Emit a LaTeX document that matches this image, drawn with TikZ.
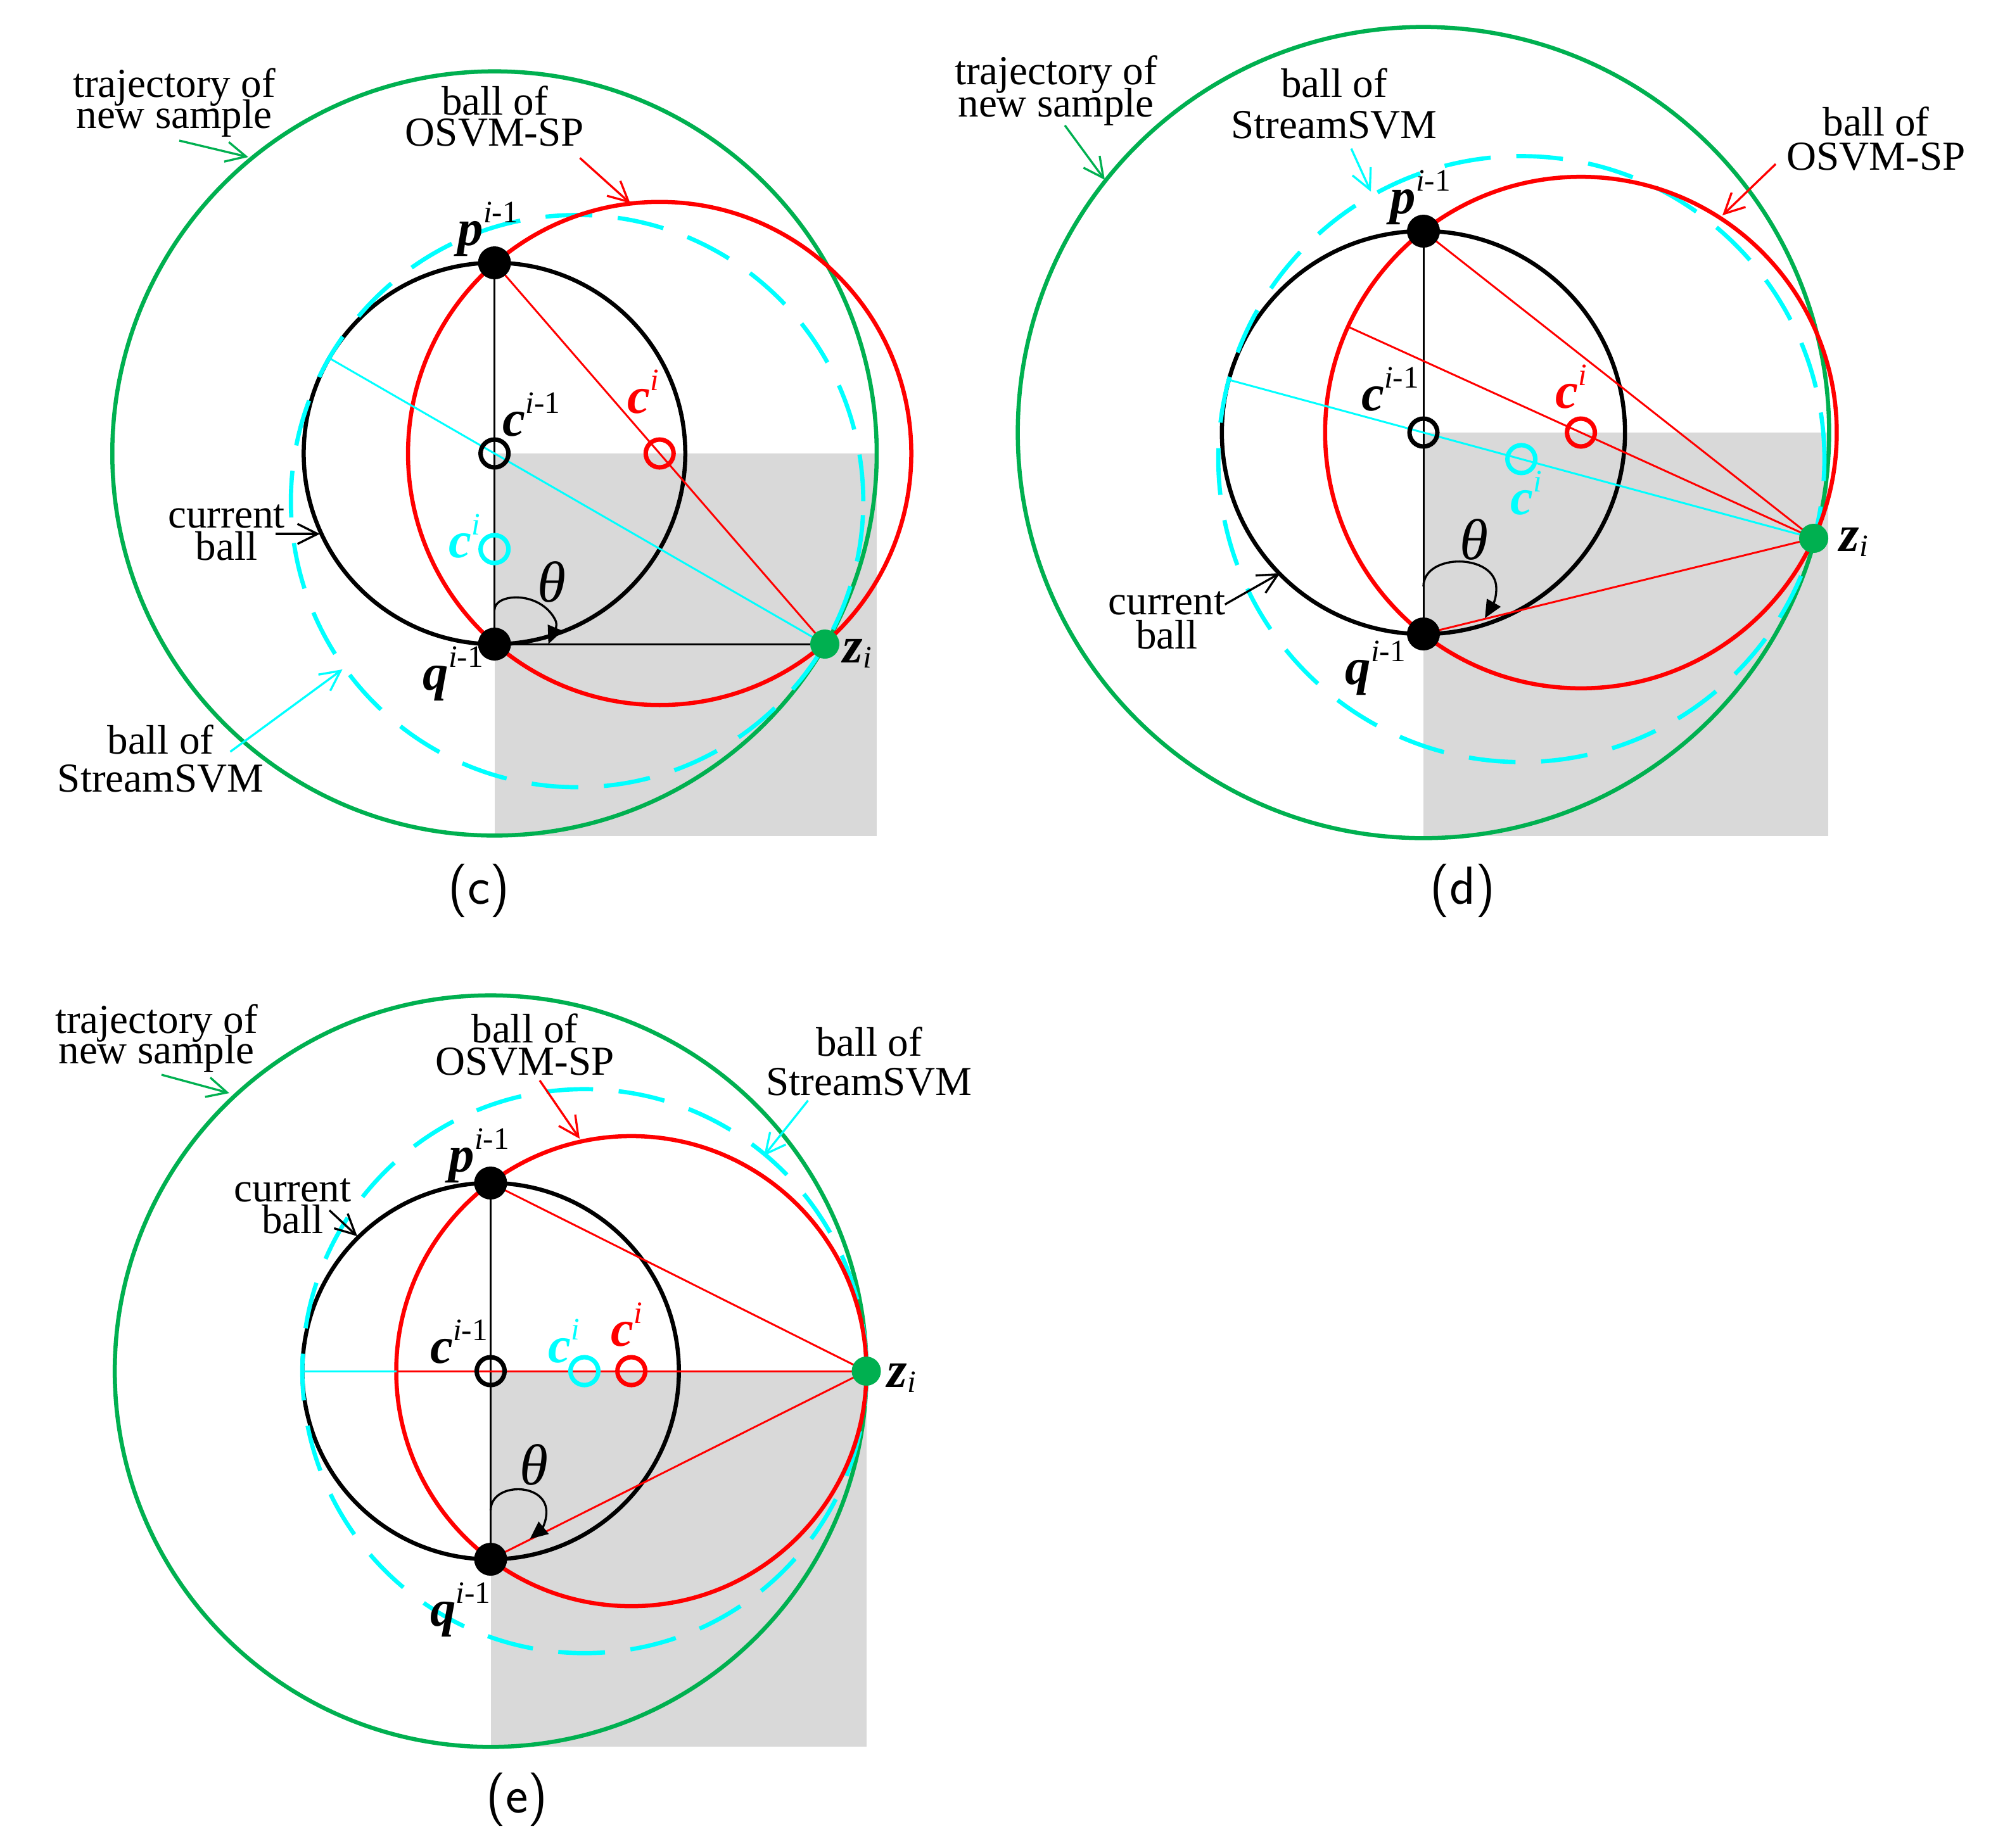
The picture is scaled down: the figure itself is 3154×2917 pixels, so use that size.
\documentclass[tikz,border=0pt]{standalone}
\usepackage{fontspec}
\setmainfont{Liberation Serif}
\usetikzlibrary{arrows.meta}
\definecolor{tgreen}{RGB}{0,176,80}
\definecolor{tred}{RGB}{255,0,0}
\definecolor{tcyan}{RGB}{0,255,255}
\definecolor{tgray}{RGB}{217,217,217}
\newcommand{\mv}[1]{{\fontsize{23}{23}\selectfont\bfseries\itshape #1\/}}
\newcommand{\ms}[1]{\raisebox{10.2pt}{\fontsize{14}{14}\selectfont #1}}
\newcommand{\mb}[1]{\raisebox{-2.5pt}{\fontsize{14}{14}\selectfont #1}}
\newcommand{\twol}[3]{\vtop{\baselineskip=#1\lineskiplimit=-100pt\lineskip=0pt\halign{\hfil##\hfil\cr#2\cr#3\cr}}}
\begin{document}
\begin{tikzpicture}[x=0.01cm,y=-0.01cm,
  bigc/.style={line width=1.85pt},
  thinl/.style={line width=0.85pt},
  dashc/.style={line width=1.9pt,tcyan,dash pattern=on 21pt off 11.5pt},
  hollow/.style={draw,line width=2pt,circle,minimum size=0.44cm,inner sep=0pt},
  solidm/.style={fill=black,circle,minimum size=0.52cm,inner sep=0pt},
  zmark/.style={fill=tgreen,circle,minimum size=0.46cm,inner sep=0pt},
  txt/.style={inner sep=0pt,anchor=base,font=\fontsize{18.5}{18.5}\selectfont},
  mlab/.style={inner sep=0pt,anchor=base west},
  plab/.style={inner sep=0pt,anchor=base,font=\sffamily\fontsize{24}{24}\selectfont},
  thlab/.style={inner sep=0pt,font=\fontsize{26}{26}\selectfont\itshape},
  callout/.style={line width=0.95pt,-{Straight Barb[length=9pt,width=9pt]}},
  tharc/.style={line width=0.95pt,-{Triangle[length=8pt,width=7pt]}}]
\useasboundingbox (0,0) rectangle (3154,2917);
\fill[white] (0,0) rectangle (3154,2917);

%%%%%%%%%%%%%%%% panel (c)
\coordinate (cC) at (780.6,716);
\coordinate (pC) at (780.6,415);
\coordinate (qC) at (780.6,1017);
\coordinate (zC) at (1302,1017);
\coordinate (rcC) at (1041.3,716);
\coordinate (scC) at (910.95,791.25);
\coordinate (farC) at (519.9,565.5);
\fill[tgray] (cC) rectangle (1384,1320);
\draw[bigc,tgreen] (cC) circle[radius=6.03cm];
\draw[bigc,black] (cC) circle[radius=3.01cm];
\draw[dashc] (scC) circle[radius=4.515cm];
\draw[bigc,tred] (rcC) circle[radius=3.97cm];
\draw[thinl,black] (pC) -- (qC);
\draw[thinl,black] (qC) -- (zC);
\draw[thinl,tcyan] (farC) -- (zC);
\draw[thinl,tred] (pC) -- (zC);
\node[hollow,black] (mcC) at (cC) {};
\node[hollow,tred] (mrC) at (rcC) {};
\node[hollow,tcyan] (msC) at (780.6,867) {};
\node[solidm] (npC) at (pC) {};
\node[solidm] (nqC) at (qC) {};
\node[zmark] (nzC) at (zC) {};
\draw[tharc] (780.6,963) .. controls (780.6,937) and (850.6,932) .. (875.6,977)
  .. controls (883.6,989) and (870.6,1005) .. (865.6,1017);
\node[thlab] (thC) at (871,919) {θ};
\node[mlab] (lpC) at (722,387) {\mv{p}\ms{\textit{i}-1}};
\node[mlab] (lcC) at (793,688) {\mv{c}\ms{\textit{i}-1}};
\node[mlab,text=tred] (lrC) at (990,652) {\mv{c}\ms{\textit{i}}};
\node[mlab,text=tcyan] (lsC) at (708,880) {\mv{c}\ms{\textit{i}}};
\node[mlab] (lqC) at (667,1089) {\mv{q}\ms{\textit{i}-1}};
\node[mlab] (lzC) at (1330,1046) {\mv{z}\mb{\textit{i}}};
\node[txt] (tC) at (275,153) {\twol{13.94pt}{trajectory of}{new sample}};
\coordinate (atC1) at (283,222); \coordinate (atC2) at (392,248);
\draw[callout,tgreen] (atC1) -- (atC2);
\node[txt] (oC) at (781,181) {\twol{13.94pt}{ball of}{OSVM-SP}};
\coordinate (aoC1) at (915.5,249.5); \coordinate (aoC2) at (995,321);
\draw[callout,tred] (aoC1) -- (aoC2);
\node[txt] (kC) at (357.5,833) {\twol{14.5pt}{current}{ball}};
\coordinate (akC1) at (435,843); \coordinate (akC2) at (505,843);
\draw[callout,black] (akC1) -- (akC2);
\node[txt] (sC) at (253.5,1190) {\twol{17.2pt}{ball of}{StreamSVM}};
\coordinate (asC1) at (363.5,1187); \coordinate (asC2) at (540.5,1057);
\draw[callout,tcyan] (asC1) -- (asC2);
\node[plab] (capC) at (756,1427) {(c)};

%%%%%%%%%%%%%%%% panel (d)
\coordinate (cD) at (2247,683);
\coordinate (pD) at (2247,365);
\coordinate (qD) at (2247,1001);
\coordinate (zD) at (2863,850);
\coordinate (rcD) at (2495.6,683);
\coordinate (roD) at (2128.2,516);
\coordinate (scD) at (2401.55,724.9);
\coordinate (farD) at (1940.1,599.8);
\fill[tgray] (cD) rectangle (2886,1320);
\draw[bigc,tgreen] (cD) circle[radius=6.40cm];
\draw[bigc,black] (cD) circle[radius=3.18cm];
\draw[dashc] (scD) circle[radius=4.781cm];
\draw[bigc,tred] (rcD) circle[radius=4.036cm];
\draw[thinl,black] (pD) -- (qD);
\draw[thinl,tcyan] (farD) -- (zD);
\draw[thinl,tred] (pD) -- (zD);
\draw[thinl,tred] (roD) -- (zD);
\draw[thinl,tred] (qD) -- (zD);
\node[hollow,black] (mcD) at (cD) {};
\node[hollow,tred] (mrD) at (rcD) {};
\node[hollow,tcyan] (msD) at (scD) {};
\node[solidm] (npD) at (pD) {};
\node[solidm] (nqD) at (qD) {};
\node[zmark] (nzD) at (zD) {};
\draw[tharc] (2247,926) .. controls (2247,873) and (2362,873) .. (2362,929)
  .. controls (2362,949) and (2355,957) .. (2344,976);
\node[thlab] (thD) at (2327,852) {θ};
\node[mlab] (lpD) at (2194,337) {\mv{p}\ms{\textit{i}-1}};
\node[mlab] (lcD) at (2148.5,648) {\mv{c}\ms{\textit{i}-1}};
\node[mlab,text=tred] (lrD) at (2455,644) {\mv{c}\ms{\textit{i}}};
\node[mlab,text=tcyan] (lsD) at (2384,812) {\mv{c}\ms{\textit{i}}};
\node[mlab] (lqD) at (2123,1080) {\mv{q}\ms{\textit{i}-1}};
\node[mlab] (lzD) at (2903,870) {\mv{z}\mb{\textit{i}}};
\node[txt] (tD) at (1667,133) {\twol{14.5pt}{trajectory of}{new sample}};
\coordinate (atD1) at (1681,198); \coordinate (atD2) at (1744,284);
\draw[callout,tgreen] (atD1) -- (atD2);
\node[txt] (sD) at (2106,153.6) {\twol{18.5pt}{ball of}{StreamSVM}};
\coordinate (asD1) at (2133,234.6); \coordinate (asD2) at (2164,302.6);
\draw[callout,tcyan] (asD1) -- (asD2);
\node[txt] (oD) at (2961.5,214) {\twol{15.4pt}{ball of}{OSVM-SP}};
\coordinate (aoD1) at (2803,259); \coordinate (aoD2) at (2719,340);
\draw[callout,tred] (aoD1) -- (aoD2);
\node[txt] (kD) at (1842,970) {\twol{15.4pt}{current}{ball}};
\coordinate (akD1) at (1933.6,954.4); \coordinate (akD2) at (2020.6,905);
\draw[callout,black] (akD1) -- (akD2);
\node[plab] (capD) at (2309,1427) {(d)};

%%%%%%%%%%%%%%%% panel (e)
\coordinate (cE) at (774.5,2165);
\coordinate (pE) at (774.5,1868);
\coordinate (qE) at (774.5,2462);
\coordinate (zE) at (1367.5,2165);
\coordinate (rcE) at (996.6,2165);
\coordinate (roE) at (625.7,2165);
\coordinate (scE) at (922.5,2165);
\coordinate (farE) at (477.5,2165);
\fill[tgray] (cE) rectangle (1368,2758);
\draw[bigc,tgreen] (cE) circle[radius=5.93cm];
\draw[bigc,black] (cE) circle[radius=2.97cm];
\draw[dashc] (scE) circle[radius=4.45cm];
\draw[bigc,tred] (rcE) circle[radius=3.709cm];
\draw[thinl,black] (pE) -- (qE);
\draw[thinl,tcyan] (farE) -- (zE);
\draw[thinl,tred] (roE) -- (zE);
\draw[thinl,tred] (pE) -- (zE);
\draw[thinl,tred] (qE) -- (zE);
\node[hollow,black] (mcE) at (cE) {};
\node[hollow,tcyan] (msE) at (scE) {};
\node[hollow,tred] (mrE) at (rcE) {};
\node[solidm] (npE) at (pE) {};
\node[solidm] (nqE) at (qE) {};
\node[zmark] (nzE) at (zE) {};
\draw[tharc] (774.5,2385) .. controls (774.5,2340) and (862.5,2340) .. (862.5,2387)
  .. controls (862.5,2407) and (852.5,2417) .. (836.5,2430);
\node[thlab] (thE) at (843,2313) {θ};
\node[mlab] (lpE) at (708,1850) {\mv{p}\ms{\textit{i}-1}};
\node[mlab] (lcE) at (678.6,2152) {\mv{c}\ms{\textit{i}-1}};
\node[mlab,text=tcyan] (lsE) at (865,2151) {\mv{c}\ms{\textit{i}}};
\node[mlab,text=tred] (lrE) at (964,2125) {\mv{c}\ms{\textit{i}}};
\node[mlab] (lqE) at (678.6,2567) {\mv{q}\ms{\textit{i}-1}};
\node[mlab] (lzE) at (1400,2190) {\mv{z}\mb{\textit{i}}};
\node[txt] (tE) at (247,1631) {\twol{13.7pt}{trajectory of}{new sample}};
\coordinate (atE1) at (255,1697); \coordinate (atE2) at (362,1726);
\draw[callout,tgreen] (atE1) -- (atE2);
\node[txt] (oE) at (828.5,1646) {\twol{14.5pt}{ball of}{OSVM-SP}};
\coordinate (aoE1) at (852,1706); \coordinate (aoE2) at (915,1798);
\draw[callout,tred] (aoE1) -- (aoE2);
\node[txt] (sE) at (1372,1667) {\twol{17.9pt}{ball of}{StreamSVM}};
\coordinate (asE1) at (1275.5,1737.7); \coordinate (asE2) at (1206,1825);
\draw[callout,tcyan] (asE1) -- (asE2);
\node[txt] (kE) at (462,1897.6) {\twol{14.1pt}{current}{ball}};
\coordinate (akE1) at (520,1911); \coordinate (akE2) at (564,1952);
\draw[callout,black] (akE1) -- (akE2);
\node[plab] (capE) at (816,2862) {(e)};
\end{tikzpicture}
\end{document}
